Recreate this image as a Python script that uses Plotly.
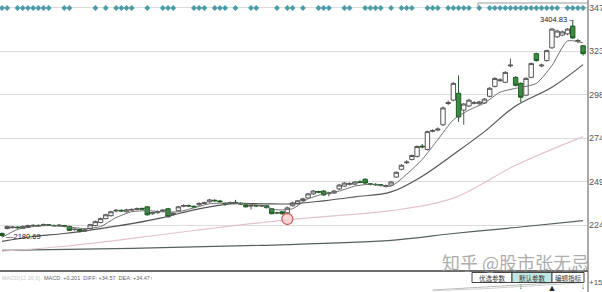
import plotly.graph_objects as go

W, H = 602, 292

# ---------------- data ----------------
open_ = [2200, 2228, 2233, 2236, 2229, 2234, 2244, 2246, 2246, 2250, 2246, 2244, 2245, 2240, 2222, 2223, 2214, 2228, 2245, 2262,
         2284, 2301, 2327, 2331, 2323, 2332, 2336, 2342, 2351, 2312, 2318, 2326, 2340, 2308, 2329, 2354, 2358, 2354, 2362, 2370,
         2379, 2388, 2384, 2370, 2371, 2376, 2371, 2362, 2355, 2358, 2355, 2357, 2340, 2315, 2323, 2317, 2357, 2368, 2386, 2401,
         2424, 2437, 2440, 2425, 2429, 2452, 2468, 2478, 2479, 2492, 2507, 2481, 2478, 2476, 2466, 2474, 2519, 2563, 2600, 2619,
         2636, 2694, 2675, 2778, 2785, 2815, 2935, 2954, 2993, 2898, 2921, 2936, 2934, 2938, 2976, 3032, 3064, 3055, 3148, 3083,
         3049, 2982, 3083, 3217, 3148, 3178, 3250, 3312, 3322, 3329, 3373, 3287, 3262]
high = [2206, 2245, 2242, 2241, 2245, 2250, 2252, 2251, 2256, 2254, 2250, 2252, 2249, 2244, 2229, 2226, 2226, 2255, 2273, 2290,
        2312, 2329, 2338, 2336, 2340, 2342, 2347, 2346, 2356, 2323, 2330, 2338, 2345, 2320, 2357, 2365, 2363, 2358, 2376, 2380,
        2396, 2393, 2390, 2374, 2381, 2390, 2376, 2366, 2362, 2362, 2363, 2361, 2344, 2323, 2327, 2352, 2379, 2390, 2402, 2430,
        2446, 2442, 2445, 2436, 2446, 2480, 2490, 2490, 2497, 2502, 2512, 2485, 2484, 2480, 2477, 2497, 2552, 2592, 2614, 2647,
        2698, 2706, 2782, 2790, 2800, 2918, 2952, 3056, 3094, 2938, 2962, 2950, 2950, 2966, 3028, 3084, 3078, 3118, 3189, 3090,
        3055, 3083, 3167, 3222, 3160, 3240, 3362, 3352, 3348, 3362, 3404.83, 3300, 3266]
low = [2180.69, 2223, 2228, 2228, 2225, 2230, 2240, 2239, 2242, 2242, 2240, 2241, 2236, 2214, 2216, 2206, 2209, 2224, 2240, 2258,
       2280, 2295, 2320, 2322, 2318, 2328, 2332, 2334, 2301, 2306, 2312, 2320, 2290, 2302, 2324, 2348, 2350, 2344, 2356, 2366,
       2374, 2380, 2374, 2356, 2366, 2367, 2362, 2346, 2336, 2350, 2350, 2342, 2308, 2309, 2306, 2305, 2352, 2363, 2380, 2396,
       2418, 2428, 2414, 2410, 2424, 2446, 2463, 2472, 2474, 2485, 2480, 2472, 2470, 2466, 2460, 2469, 2514, 2558, 2594, 2613,
       2630, 2682, 2670, 2772, 2778, 2808, 2926, 2948, 2831, 2815, 2915, 2930, 2928, 2932, 2970, 3026, 3058, 3050, 3140, 3032,
       2943, 2976, 3078, 3172, 3140, 3172, 3245, 3306, 3316, 3322, 3300, 3276, 3206]
close = [2189, 2239, 2236, 2233, 2240, 2245, 2246, 2244, 2251, 2246, 2244, 2247, 2240, 2218, 2224, 2211, 2220, 2250, 2267, 2284,
         2306, 2323, 2331, 2328, 2334, 2336, 2340, 2338, 2306, 2318, 2324, 2332, 2295, 2314, 2351, 2358, 2356, 2350, 2370, 2374,
         2390, 2385, 2380, 2368, 2375, 2373, 2367, 2351, 2358, 2356, 2358, 2346, 2312, 2318, 2312, 2345, 2373, 2385, 2396, 2424,
         2440, 2434, 2418, 2429, 2440, 2474, 2485, 2482, 2491, 2489, 2485, 2478, 2476, 2472, 2471, 2491, 2546, 2586, 2604, 2641,
         2692, 2690, 2776, 2782, 2790, 2910, 2940, 3049, 2859, 2932, 2954, 2940, 2944, 2960, 3021, 3077, 3068, 3111, 3152, 3038,
         2971, 3077, 3161, 3178, 3152, 3234, 3356, 3345, 3340, 3356, 3306, 3291, 3217]

ma5_idx = [0, 3, 6, 9, 12, 16, 19, 22, 25, 28, 31, 34, 37, 40, 44, 47, 50, 53, 56, 59, 62, 65, 68, 71, 75, 78, 81, 84, 87,
           90, 93, 96, 99, 103, 106, 109, 112]
ma5 = [2178, 2223, 2239, 2245, 2239, 2228, 2239, 2290, 2323, 2329, 2323, 2323, 2345, 2368, 2373, 2368, 2357, 2334, 2340,
       2396, 2424, 2440, 2468, 2479, 2468, 2535, 2619, 2731, 2843, 2898, 2938, 2999, 3021, 3049, 3150, 3289, 3278]
ma20_idx = [0, 6, 12, 19, 25, 31, 37, 44, 50, 56, 62, 68, 75, 81, 87, 93, 99, 106, 112]
ma20 = [2155, 2183, 2200, 2228, 2256, 2290, 2334, 2368, 2368, 2368, 2385, 2407, 2435, 2524, 2647, 2776, 2921, 3027, 3155]
ma60_idx = [0, 12, 25, 37, 50, 62, 75, 87, 99, 112]
ma60 = [2100, 2128, 2172, 2217, 2262, 2295, 2329, 2400, 2586, 2748]
ma250_idx = [0, 25, 50, 75, 87, 99, 112]
ma250 = [2105, 2116, 2133, 2161, 2200, 2234, 2273]

signal_idx = [0, 1, 3, 4, 5, 6, 7, 8, 9, 12, 13, 18, 20, 22, 23, 24, 25, 28, 31, 32, 33, 37, 38, 39, 41, 42, 43, 45, 48, 49,
              53, 55, 56, 58, 61, 62, 63, 66, 67, 70, 71, 72, 73, 75, 77, 78, 79, 82, 83, 84, 86, 87, 88, 89, 90, 92, 94, 95,
              96, 97, 98, 99, 100, 101, 102, 103, 104, 105, 106, 107, 109, 110, 111, 112]

price_ticks = [3478, 3232, 2986, 2740, 2494, 2248]
price_ticklabels = ["3478", "3232", "2986", "2740", "2494", "2248"]

low_idx, low_val, low_text = 0, 2180.69, "2180.69"
high_idx, high_val, high_text = 110, 3404.83, "3404.83"
circle_idx, circle_price = 55, 2282

macd_idx = [83, 93, 103, 112]
diff_vals = [30, 70, 120, 165]
dea_vals = [20, 50, 95, 140]
macd_tick = [150]
macd_ticklabel = ["+150.65"]
arrow_idx = [100, 106, 112]
arrow_vals = [75, 45, 75]
arrow_text = ["↓", "▲", "↓"]
arrow_color = ["#2d8a35", "#222222", "#2d8a35"]

macd_caption = "MACD: +0.201  DIFF: +34.57  DEA: +34.47↑"
buttons = ["优选参数", "默认参数", "编辑指标"]
watermark = "知乎 @股市张无忌"

# ---------------- figure ----------------
idx = list(range(len(close)))
FONT = "Liberation Sans"
CJK = "Noto Sans CJK SC"

def px(x):
    return x / W

def py(y):
    return 1 - y / H

fig = go.Figure()

fig.add_trace(go.Scatter(x=ma250_idx, y=ma250, mode="lines", line=dict(color="#56625a", width=1.2, shape="spline"),
                         hoverinfo="skip", yaxis="y"))
fig.add_trace(go.Scatter(x=ma60_idx, y=ma60, mode="lines", line=dict(color="#e3c2cf", width=1.2, shape="spline"),
                         hoverinfo="skip", yaxis="y"))
fig.add_trace(go.Scatter(x=ma20_idx, y=ma20, mode="lines", line=dict(color="#555555", width=1.2, shape="spline"),
                         hoverinfo="skip", yaxis="y"))
fig.add_trace(go.Scatter(x=ma5_idx, y=ma5, mode="lines", line=dict(color="#6e6e6e", width=1, shape="spline", smoothing=0.6),
                         hoverinfo="skip", yaxis="y"))

fig.add_trace(go.Candlestick(
    x=idx, open=open_, high=high, low=low, close=close,
    increasing=dict(line=dict(color="#555555", width=1), fillcolor="#ffffff"),
    decreasing=dict(line=dict(color="#1f5a25", width=1), fillcolor="#3a8c3e"),
    whiskerwidth=0, hoverinfo="skip", yaxis="y"))

fig.add_trace(go.Scatter(x=[circle_idx], y=[circle_price], mode="markers",
                         marker=dict(symbol="circle", size=11, color="rgba(246,205,205,0.75)",
                                     line=dict(color="#c9605a", width=1.3)),
                         hoverinfo="skip", yaxis="y"))

fig.add_trace(go.Scatter(x=signal_idx, y=[0] * len(signal_idx), mode="markers",
                         marker=dict(symbol="diamond", size=4.5, color="#4a9ca6"),
                         hoverinfo="skip", yaxis="y3"))

fig.add_trace(go.Scatter(x=macd_idx, y=diff_vals, mode="lines", line=dict(color="#bbbbbb", width=1),
                         hoverinfo="skip", yaxis="y4"))
fig.add_trace(go.Scatter(x=macd_idx, y=dea_vals, mode="lines", line=dict(color="#d0d0d0", width=1),
                         hoverinfo="skip", yaxis="y4"))
fig.add_trace(go.Scatter(x=arrow_idx, y=arrow_vals, mode="text", text=arrow_text,
                         textfont=dict(color=arrow_color, size=9, family=FONT),
                         hoverinfo="skip", yaxis="y4"))

XDOM = [0, 588 / W]
fig.update_layout(
    width=W, height=H, margin=dict(l=0, r=0, t=0, b=0),
    paper_bgcolor="white", plot_bgcolor="rgba(0,0,0,0)",
    showlegend=False, template="none",
    boxgap=0.15, boxgroupgap=0,
    font=dict(family=FONT, size=9, color="#444"),
    xaxis=dict(domain=XDOM, range=[-0.3855, 112.95], visible=False, rangeslider=dict(visible=False),
               showgrid=False, zeroline=False),
    yaxis=dict(domain=[22 / H, 1], range=[1993.6, 3520.4], side="right", anchor="x",
               tickvals=price_ticks, ticktext=price_ticklabels, ticks="",
               showgrid=True, gridcolor="#dcdcdc", gridwidth=1, zeroline=False, showline=False,
               tickfont=dict(size=9, color="#555", family=FONT), automargin=False),
    yaxis3=dict(domain=[1 - 16 / H, 1], range=[-1, 1], anchor="x", visible=False, showgrid=False, zeroline=False),
    yaxis4=dict(domain=[0, 20 / H], range=[0, 300], side="right", anchor="x",
                tickvals=macd_tick, ticktext=macd_ticklabel, ticks="", showgrid=False, zeroline=False,
                showline=False, tickfont=dict(size=8, color="#555", family=FONT), automargin=False),
)

shapes = []
shapes.append(dict(type="line", xref="paper", yref="paper", x0=0, x1=588 / W, y0=py(271), y1=py(271),
                   line=dict(color="#3a3a3a", width=1.5)))
shapes.append(dict(type="line", xref="paper", yref="paper", x0=588 / W, x1=588 / W, y0=0, y1=1,
                   line=dict(color="#555", width=1)))
shapes.append(dict(type="line", xref="paper", yref="paper", x0=px(478), x1=px(588), y0=py(3), y1=py(3),
                   line=dict(color="#999", width=1)))
shapes.append(dict(type="line", xref="paper", yref="paper", x0=px(478), x1=px(478), y0=py(3), y1=py(7),
                   line=dict(color="#999", width=1)))
btn_x = [(472, 512), (512, 552), (552, 584)]
btn_fill = ["#ffffff", "#bfe6e3", "#ffffff"]
for (a, b), fcol in zip(btn_x, btn_fill):
    shapes.append(dict(type="rect", xref="paper", yref="paper", x0=px(a), x1=px(b), y0=py(282.5), y1=py(272.5),
                       line=dict(color="#444", width=1), fillcolor=fcol))
fig.update_layout(shapes=shapes)

ann = []
ann.append(dict(x=low_idx, y=low_val, xref="x", yref="y", text="—" + low_text, showarrow=False,
                xanchor="left", yanchor="middle", xshift=2, font=dict(size=7.5, color="#222", family=FONT)))
ann.append(dict(x=high_idx, y=high_val, xref="x", yref="y", text=high_text + " –", showarrow=False,
                xanchor="right", yanchor="middle", xshift=3, yshift=1, font=dict(size=7.5, color="#222", family=FONT)))
ann.append(dict(x=px(0), y=py(278), xref="paper", yref="paper", text="MACD(12,26,9)", showarrow=False,
                xanchor="left", yanchor="middle", font=dict(size=5.5, color="#c8c8c8", family=FONT)))
ann.append(dict(x=px(42), y=py(278), xref="paper", yref="paper", text=macd_caption, showarrow=False,
                xanchor="left", yanchor="middle", font=dict(size=5.5, color="#666", family=FONT)))
for (a, b), t in zip(btn_x, buttons):
    ann.append(dict(x=px((a + b) / 2), y=py(277.5), xref="paper", yref="paper", text=t, showarrow=False,
                    xanchor="center", yanchor="middle", font=dict(size=6.5, color="#333", family=CJK)))
ann.append(dict(x=px(515), y=py(262), xref="paper", yref="paper", text=watermark, showarrow=False,
                xanchor="center", yanchor="middle", font=dict(size=18, color="rgba(150,150,150,0.8)", family=CJK)))
fig.update_layout(annotations=ann)

fig.write_html("out.html")
